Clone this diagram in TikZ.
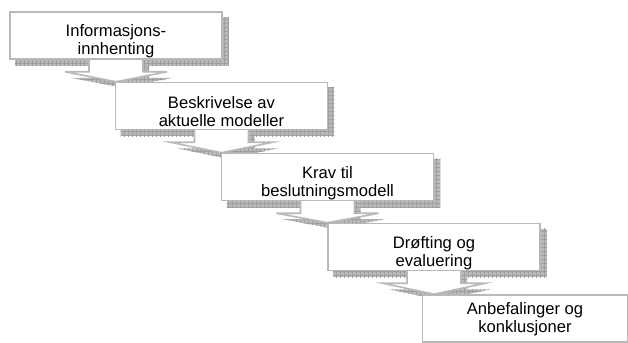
\documentclass[tikz,border=0pt]{standalone}
\usepackage{fontspec}
\setmainfont{Liberation Sans}
\usetikzlibrary{calc,backgrounds,patterns.meta}

\tikzset{
  stepbox/.style={draw=gray!55, line width=0.8pt, fill=white,
    minimum width=106pt, minimum height=23.5pt, inner sep=0pt},
  steptext/.style={align=center, font=\fontsize{8.3}{9}\selectfont, inner sep=0pt},
  hatchshadow/.style={fill=gray!55,
    postaction={pattern={Hatch[distance=2pt, angle=0, line width=0.2pt]}, pattern color=gray!75}},
  stepshape/.style={draw=gray!55, line width=0.8pt, fill=white},
}

% arrow below box #1, tip on the top line of box #2, shifted by #3
\newcommand{\arrowpath}[3]{($(#1.south)+(-27,6)+#3$) -- ($(#1.south)+(-27,-12)+#3$)
  -- ($(#1.south)+(-51,-12)+#3$) -- ($(#1.south |- #2.north)+#3$)
  -- ($(#1.south)+(51,-12)+#3$) -- ($(#1.south)+(27,-12)+#3$)
  -- ($(#1.south)+(27,6)+#3$) -- cycle}

\begin{document}
\begin{tikzpicture}[x=0.5pt, y=0.5pt]
    \useasboundingbox (0,0) rectangle (628,343);

    \node[stepbox] (box1) at (116,307.5) {};
    \node[stepbox] (box2) at (221.5,237) {};
    \node[stepbox] (box3) at (327.5,166) {};
    \node[stepbox] (box4) at (434,96) {};
    \node[stepbox, minimum width=102.5pt] (box5) at (525,24.5) {};

    \node[steptext] (txt1) at ($(box1.center)+(0,-6)$) {Informasjons-\\innhenting};
    \node[steptext] (txt2) at ($(box2.center)+(0,-6)$) {Beskrivelse av\\aktuelle modeller};
    \node[steptext] (txt3) at ($(box3.center)+(0,-6)$) {Krav til\\beslutningsmodell};
    \node[steptext] (txt4) at ($(box4.center)+(0,-6)$) {Drøfting og\\evaluering};
    \node[steptext] (txt5) at ($(box5.center)+(0,-1)$) {Anbefalinger og\\konklusjoner};

    \begin{scope}[on background layer]
      \foreach \b in {box1,box2,box3,box4,box5}
        \fill[hatchshadow] ($(\b.south west)+(6,-6)$) rectangle ($(\b.north east)+(6,-6)$);
      \foreach \a/\b in {box1/box2,box2/box3,box3/box4,box4/box5}
        \fill[hatchshadow] \arrowpath{\a}{\b}{(6,-6)};
      \foreach \a/\b in {box1/box2,box2/box3,box3/box4,box4/box5}
        \draw[stepshape] \arrowpath{\a}{\b}{(0,0)};
    \end{scope}
\end{tikzpicture}
\end{document}
